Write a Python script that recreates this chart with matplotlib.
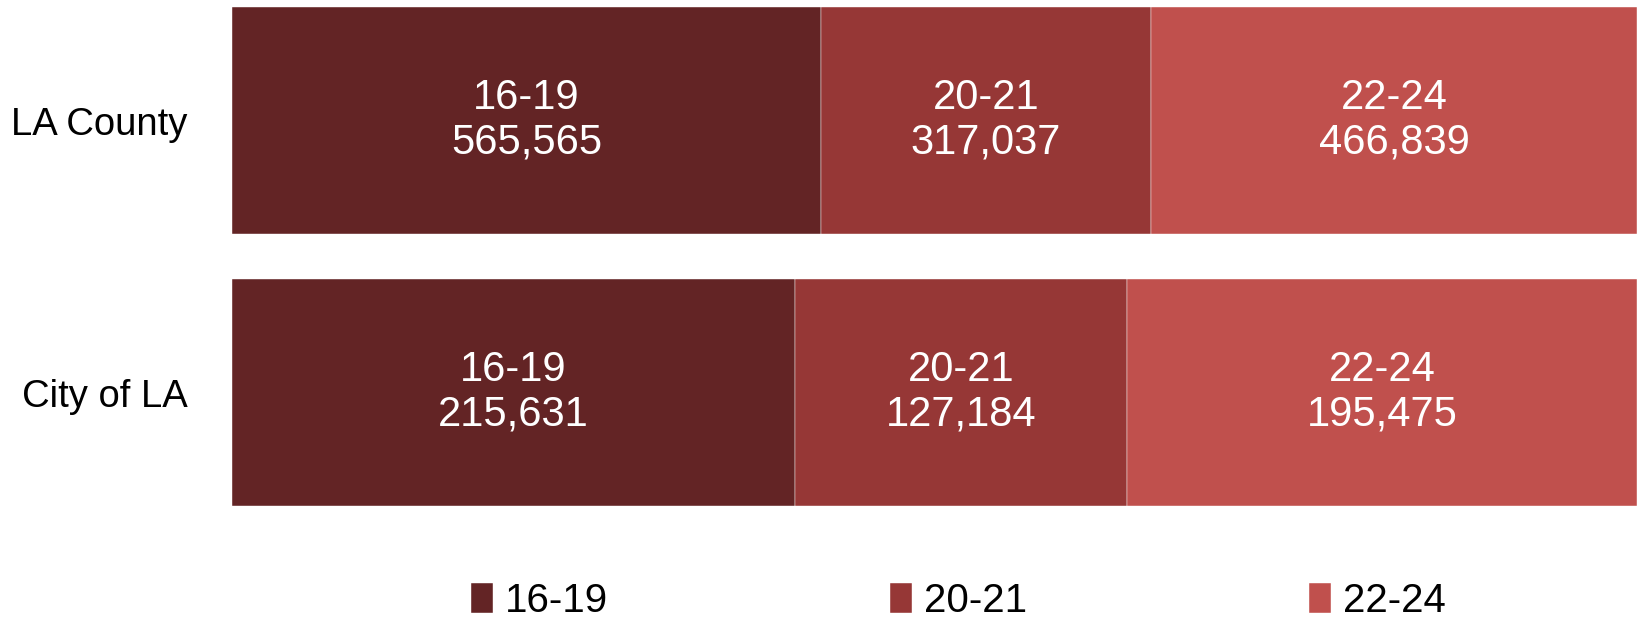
import matplotlib.pyplot as plt

regions = ["LA County", "City of LA"]
age_groups = ["16-19", "20-21", "22-24"]
counts = {
    "16-19": [565565, 215631],
    "20-21": [317037, 127184],
    "22-24": [466839, 195475],
}
colors = ["#632425", "#963736", "#C0504D"]

totals = [sum(counts[g][i] for g in age_groups) for i in range(len(regions))]
ypos = [1, 0]
font = "Liberation Sans"

fig = plt.figure(figsize=(16.37, 6.25), dpi=100)
ax = fig.add_axes([0.1417, 0.16, 0.8583, 0.84])

left = [0.0, 0.0]
for g, c in zip(age_groups, colors):
    shares = [counts[g][i] / totals[i] for i in range(len(regions))]
    bars = ax.barh(ypos, shares, left=left, height=0.834, color=c, label=g,
                   edgecolor="white", linewidth=0.3)
    for i, b in enumerate(bars):
        ax.text(left[i] + shares[i] / 2, ypos[i], f"{g}\n{counts[g][i]:,}",
                ha="center", va="center", color="white", fontsize=30,
                family=font, linespacing=1.15)
    left = [left[i] + shares[i] for i in range(len(regions))]

ax.set_xlim(0, 1)
ax.set_ylim(-0.487, 1.4437)
ax.set_yticks(ypos)
ax.set_yticklabels(regions, fontsize=27.5, family=font)
ax.tick_params(axis="y", length=0, pad=32)
ax.set_xticks([])
for s in ax.spines.values():
    s.set_visible(False)

ax.legend(loc="center", bbox_to_anchor=(0.517, -0.145), ncol=3, frameon=False,
          prop={"family": font, "size": 29}, handlelength=0.55, handleheight=0.75,
          handletextpad=0.3, columnspacing=7.0)

fig.savefig("out.png", dpi=100)
